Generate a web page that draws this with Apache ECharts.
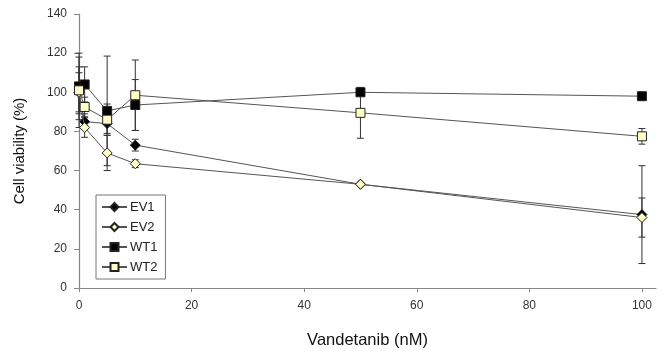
<!DOCTYPE html>
<html><head><meta charset="utf-8">
<script src="https://cdn.jsdelivr.net/npm/echarts@6/dist/echarts.min.js"></script>
<style>html,body{margin:0;padding:0;background:#fff}#c{width:663px;height:351px}</style>
</head><body><div id="c"></div>
<script>
var xValues = [0, 1, 5, 10, 50, 100];
var ev1 = [100, 85, 84, 73, 53, 37.5];
var ev1Err = [10, 4, 5, 3, 0, 25];
var ev2 = [100, 82, 69, 63.5, 53, 36];
var ev2Err = [18, 5, 9, 2, 0, 10];
var wt1 = [103, 104, 90.5, 93.5, 100, 98];
var wt1Err = [17, 9, 28, 13, 0, 0];
var wt2 = [101, 92.5, 86, 98.5, 89.5, 77.5];
var wt2Err = [12, 5, 8, 18, 13, 4];
var xTicks = [0, 20, 40, 60, 80, 100];
var yTicks = [0, 20, 40, 60, 80, 100, 120, 140];

function pts(vals) { return xValues.map(function (x, i) { return [x, vals[i]]; }); }
function errPts(vals, errs) { return xValues.map(function (x, i) { return [x, vals[i], errs[i]]; }); }

function errSeries(name, vals, errs, z) {
  return {
    type: 'custom', name: name + ' err', z: z, silent: true,
    data: errPts(vals, errs),
    renderItem: function (params, api) {
      var x = api.value(0), y = api.value(1), e = api.value(2);
      if (!e) return null;
      var top = api.coord([x, y + e]), bot = api.coord([x, y - e]);
      var w = 3.5;
      var st = { stroke: '#333', lineWidth: 1 };
      return { type: 'group', children: [
        { type: 'line', shape: { x1: top[0], y1: top[1], x2: bot[0], y2: bot[1] }, style: st },
        { type: 'line', shape: { x1: top[0] - w, y1: top[1], x2: top[0] + w, y2: top[1] }, style: st },
        { type: 'line', shape: { x1: bot[0] - w, y1: bot[1], x2: bot[0] + w, y2: bot[1] }, style: st }
      ]};
    }
  };
}

function lineSeries(name, vals, symbol, fill, z) {
  return {
    type: 'line', name: name, data: pts(vals), z: z,
    symbol: symbol, symbolSize: symbol === 'diamond' ? 10 : 9,
    showAllSymbol: true,
    lineStyle: { color: '#555', width: 1 },
    itemStyle: { color: fill, borderColor: '#222', borderWidth: 1 },
    emphasis: { disabled: true }
  };
}

var chart = echarts.init(document.getElementById('c'), null, { renderer: 'canvas' });
chart.setOption({
  animation: false,
  backgroundColor: '#fff',
  textStyle: { fontFamily: 'Liberation Sans, Arial, sans-serif' },
  grid: { left: 79, right: 7, top: 14, bottom: 63, containLabel: false, outerBoundsMode: 'none' },
  xAxis: {
    type: 'value', min: 0, max: 102.5,
    name: 'Vandetanib (nM)', nameLocation: 'middle', nameGap: 44,
    nameTextStyle: { fontSize: 16.5, color: '#111' },
    axisLine: { lineStyle: { color: '#888', width: 1.2 } },
    axisTick: { show: true, length: 4, lineStyle: { color: '#888' }, customValues: xTicks },
    axisLabel: { fontSize: 12, color: '#333', margin: 12, customValues: xTicks },
    splitLine: { show: false }
  },
  yAxis: {
    type: 'value', min: 0, max: 140, interval: 20,
    name: 'Cell viability (%)', nameLocation: 'middle', nameGap: 52, nameRotate: 90,
    nameTextStyle: { fontSize: 15, color: '#111' },
    axisLine: { show: true, lineStyle: { color: '#888', width: 1.2 } },
    axisTick: { show: true, length: 5, lineStyle: { color: '#888' } },
    axisLabel: { fontSize: 12, color: '#333', margin: 12, customValues: yTicks },
    splitLine: { show: false }
  },
  legend: {
    orient: 'vertical', left: 96, top: 195,
    data: ['EV1', 'EV2', 'WT1', 'WT2'],
    itemWidth: 25, itemHeight: 10, itemGap: 6,
    backgroundColor: '#fff', borderColor: '#777', borderWidth: 1,
    padding: [5, 8, 5, 5],
    textStyle: { fontSize: 13, lineHeight: 14, color: '#222', padding: [0, 0, 0, -2] }
  },
  series: [
    errSeries('EV1', ev1, ev1Err, 1),
    errSeries('EV2', ev2, ev2Err, 1),
    errSeries('WT1', wt1, wt1Err, 1),
    errSeries('WT2', wt2, wt2Err, 1),
    lineSeries('EV1', ev1, 'diamond', '#000', 2),
    lineSeries('EV2', ev2, 'diamond', '#ffffc8', 3),
    lineSeries('WT1', wt1, 'rect', '#000', 4),
    lineSeries('WT2', wt2, 'rect', '#ffffc8', 5)
  ]
});
</script></body></html>
